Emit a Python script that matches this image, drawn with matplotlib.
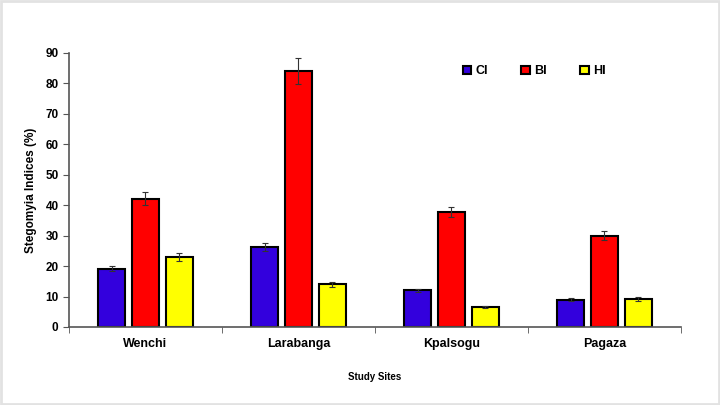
import matplotlib
matplotlib.use("Agg")
import matplotlib.pyplot as plt
import numpy as np
from matplotlib.patches import Rectangle

plt.rcParams['font.family'] = ['Liberation Sans', 'DejaVu Sans']

sites = ["Wenchi", "Larabanga", "Kpalsogu", "Pagaza"]
ci = [19.2, 26.3, 12.0, 8.9]
bi = [42.2, 84.0, 37.7, 30.0]
hi = [23.0, 14.0, 6.6, 9.2]
ci_err = [0.8, 1.2, 0.5, 0.5]
bi_err = [2.0, 4.2, 1.6, 1.5]
hi_err = [1.2, 0.8, 0.3, 0.5]

fig = plt.figure(figsize=(7.2, 4.05), dpi=100)
ax = fig.add_axes([0.0958, 0.1926, 0.85, 0.6766])

x = np.arange(len(sites))
w = 0.176
off = 0.222
kw = dict(edgecolor="black", linewidth=1.5, capsize=2,
          error_kw=dict(elinewidth=0.8, capthick=0.8, ecolor="#333333"))
ax.bar(x - off, ci, w, yerr=ci_err, color="#3300dd", label="CI", **kw)
ax.bar(x, bi, w, yerr=bi_err, color="#ff0000", label="BI", **kw)
ax.bar(x + off, hi, w, yerr=hi_err, color="#ffff00", label="HI", **kw)

ax.set_xlim(-0.5, len(sites) - 0.5)
ax.set_ylim(0, 90)
ax.set_yticks(np.arange(0, 91, 10))
ax.set_xticks(x)
ax.set_xticklabels(sites, fontsize=9, fontweight="bold")
ax.set_xticks(np.arange(-0.5, len(sites)), minor=True)
ax.tick_params(axis="x", which="major", length=0, pad=8)
ax.tick_params(axis="x", which="minor", length=4, direction="out", color="#555555")
ax.tick_params(axis="y", length=4, labelsize=8.5, color="#555555")
for t in ax.get_yticklabels():
    t.set_fontweight("bold")

for s in ["top", "right"]:
    ax.spines[s].set_visible(False)
for s in ["left", "bottom"]:
    ax.spines[s].set_color("#555555")
    ax.spines[s].set_linewidth(1.2)

ax.set_ylabel("Stegomyia Indices (%)", fontsize=8.5, fontweight="bold", labelpad=6)
ax.set_xlabel("Study Sites", fontsize=7, fontweight="bold", labelpad=16)

ax.legend(loc="upper left", bbox_to_anchor=(0.625, 0.996), ncol=3, frameon=False,
          handlelength=0.7, handleheight=0.7, handletextpad=0.3, columnspacing=2.7,
          prop=dict(size=9, weight="bold"))

fig.patches.append(Rectangle((0.002, 0.003), 0.996, 0.994, transform=fig.transFigure,
                             fill=False, edgecolor="#e2e2e2", linewidth=2))

fig.savefig("out.png", dpi=100)
